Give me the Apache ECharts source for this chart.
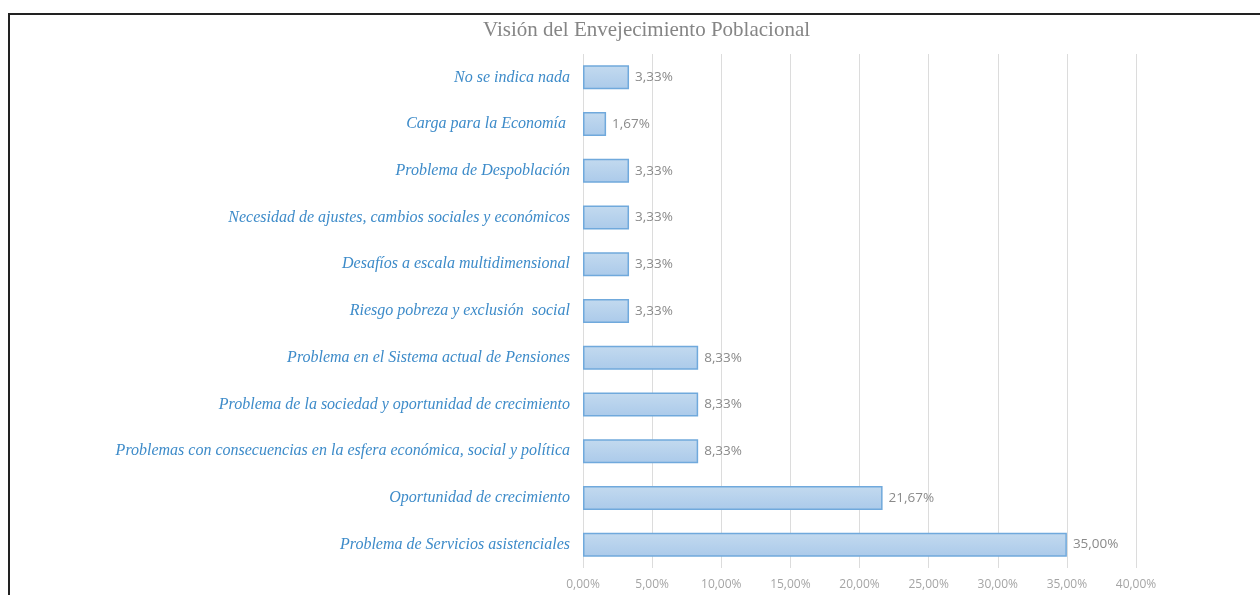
<!DOCTYPE html>
<html>
<head>
<meta charset="utf-8">
<script src="https://cdn.jsdelivr.net/npm/echarts@6/dist/echarts.min.js"></script>
<style>
  html, body { margin: 0; padding: 0; background: #fff; overflow: hidden; }
  #frame { position: absolute; left: 8px; top: 13px; width: 1300px; height: 700px;
           border-top: 2px solid #222; border-left: 2px solid #222; }
  #chart { position: absolute; left: 0; top: 0; width: 1260px; height: 595px; }
</style>
</head>
<body>
<div id="frame"></div>
<div id="chart"></div>
<script>
// categorias (de abajo hacia arriba, como en el eje)
const categorias = [
    'Problema de Servicios asistenciales',
    'Oportunidad de crecimiento',
    'Problemas con consecuencias en la esfera económica, social y política',
    'Problema de la sociedad y oportunidad de crecimiento',
    'Problema en el Sistema actual de Pensiones',
    'Riesgo pobreza y exclusión  social',
    'Desafíos a escala multidimensional',
    'Necesidad de ajustes, cambios sociales y económicos',
    'Problema de Despoblación',
    'Carga para la Economía ',
    'No se indica nada'
];
const porcentajes = [35.00, 21.67, 8.33, 8.33, 8.33, 3.33, 3.33, 3.33, 3.33, 1.67, 3.33];

const titulo = 'Visión del Envejecimiento Poblacional';

let chart = echarts.init(document.getElementById('chart'));

function fmt(v) {
    return v.toFixed(2).replace('.', ',') + '%';
}

const option = {
    title: {
        text: titulo,
        left: 478,
        top: 15,
        textStyle: {
            fontFamily: 'Liberation Serif',
            fontWeight: 'normal',
            fontSize: 21,
            color: '#858585'
        }
    },
    grid: {
        left: 583,
        right: 124,
        top: 54,
        bottom: 27
    },
    xAxis: {
        type: 'value',
        min: 0,
        max: 40,
        interval: 5,
        axisLine: { show: false },
        axisTick: { show: false },
        axisLabel: {
            color: '#a5a5a5',
            fontFamily: 'Open Sans',
            fontSize: 12,
            margin: 11,
            formatter: v => fmt(v)
        },
        splitLine: { lineStyle: { color: '#dcdcdc', width: 1 } }
    },
    yAxis: {
        type: 'category',
        data: categorias,
        axisLine: { show: false },
        axisTick: { show: false },
        axisLabel: {
            interval: 0,
            color: '#3d8bc9',
            fontFamily: 'Liberation Serif',
            fontStyle: 'italic',
            fontSize: 16,
            margin: 13
        }
    },
    series: [
        {
            type: 'bar',
            data: porcentajes,
            barWidth: 24,
            itemStyle: {
                color: new echarts.graphic.LinearGradient(0, 0, 0, 1, [
                    { offset: 0, color: '#c3daef' },
                    { offset: 1, color: '#abcaea' }
                ]),
                borderColor: '#70a9dc',
                borderWidth: 1.5
            },
            label: {
                show: true,
                position: 'right',
                distance: 6,
                color: '#8a8a8a',
                fontFamily: 'Open Sans',
                fontSize: 13.5,
                formatter: p => fmt(p.value)
            }
        }
    ]
};

chart.setOption(option);
</script>
</body>
</html>
